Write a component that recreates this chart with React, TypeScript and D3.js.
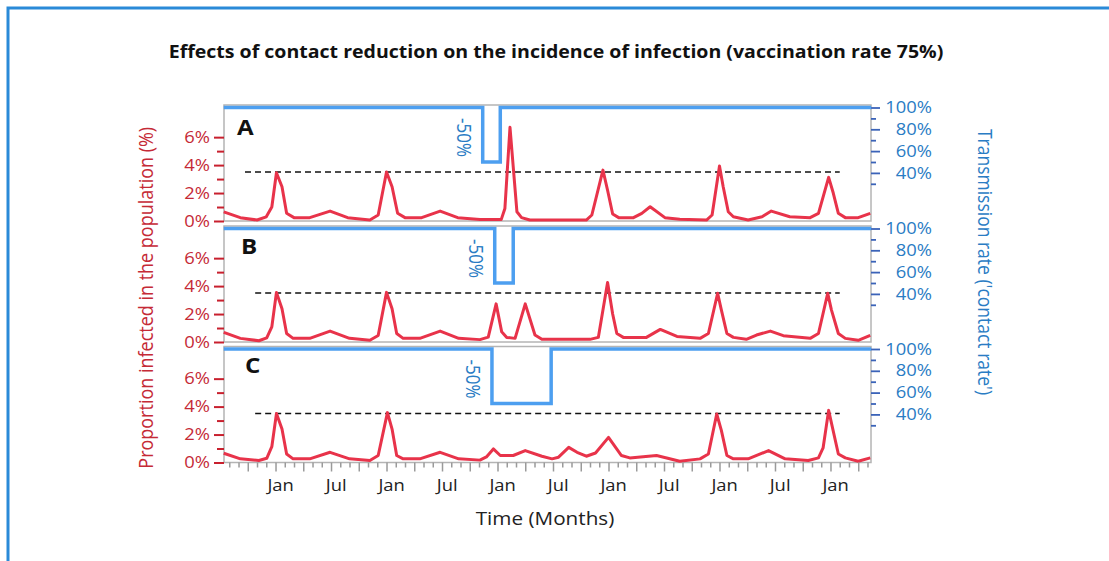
import React, { useEffect, useRef } from "react";
import * as d3 from "d3";

const TITLE = "Effects of contact reduction on the incidence of infection (vaccination rate 75%)";
const Y_TITLE = "Proportion infected in the population (%)";
const Y2_TITLE = "Transmission rate ('contact rate')";
const X_TITLE = "Time (Months)";

const panelNames = ["A", "B", "C"];

// time in months, 0 = January of the first labelled year; values in % infected
const incidenceA: [number, number][] = [
  [-5.6, 0.65], [-3.8, 0.24], [-2.0, 0.07], [-1.0, 0.3], [-0.4, 1.0], [0.1, 3.45], [0.7, 2.45],
  [1.2, 0.55], [2.0, 0.24], [3.7, 0.24], [5.9, 0.71], [7.8, 0.24], [10.2, 0.07], [11.1, 0.43],
  [12.0, 3.5], [12.6, 2.45], [13.2, 0.55], [14.0, 0.24], [15.8, 0.24], [17.8, 0.71], [19.7, 0.24],
  [22.1, 0.1], [24.4, 0.1], [24.8, 0.9], [25.35, 6.7], [26.1, 0.66], [26.6, 0.24], [27.5, 0.07],
  [33.6, 0.07], [34.2, 0.43], [35.4, 3.64], [35.9, 2.2], [36.45, 0.5], [37.1, 0.24], [38.7, 0.24],
  [39.6, 0.55], [40.5, 1.02], [42.1, 0.24], [43.7, 0.12], [46.6, 0.07], [47.2, 0.43], [48.0, 3.93],
  [48.4, 2.45], [48.95, 0.66], [49.5, 0.3], [51.1, 0.07], [52.6, 0.3], [53.6, 0.71], [55.6, 0.3],
  [57.8, 0.24], [58.7, 0.55], [59.8, 3.12], [60.3, 2.0], [60.85, 0.55], [61.6, 0.24], [63.0, 0.24],
  [64.3, 0.55],
];

const incidenceB: [number, number][] = [
  [-5.6, 0.69], [-3.8, 0.26], [-1.8, 0.09], [-0.95, 0.3], [-0.4, 1.08], [0.1, 3.55], [0.7, 2.38],
  [1.2, 0.61], [1.9, 0.26], [3.7, 0.26], [5.9, 0.78], [8.0, 0.26], [10.2, 0.12], [11.1, 0.47],
  [12.0, 3.55], [12.6, 2.38], [13.1, 0.61], [13.8, 0.26], [15.6, 0.26], [17.8, 0.78], [19.8, 0.26],
  [22.1, 0.17], [23.0, 0.35], [23.85, 2.73], [24.45, 0.73], [25.0, 0.33], [25.9, 0.26], [27.0, 2.73],
  [28.05, 0.5], [28.8, 0.19], [34.0, 0.19], [34.9, 0.33], [35.9, 4.26], [36.45, 2.0], [36.9, 0.61],
  [37.6, 0.33], [40.1, 0.33], [41.6, 0.9], [43.4, 0.4], [45.9, 0.26], [46.8, 0.61], [47.8, 3.49],
  [48.2, 2.3], [48.8, 0.61], [49.5, 0.33], [50.9, 0.19], [52.0, 0.5], [53.5, 0.78], [54.9, 0.45],
  [57.8, 0.26], [58.7, 0.61], [59.7, 3.49], [60.1, 2.3], [60.85, 0.61], [61.6, 0.26], [63.0, 0.12],
  [64.3, 0.47],
];

const incidenceC: [number, number][] = [
  [-5.6, 0.66], [-3.8, 0.26], [-1.8, 0.14], [-0.95, 0.3], [-0.4, 1.13], [0.1, 3.5], [0.7, 2.39],
  [1.2, 0.61], [1.9, 0.26], [3.7, 0.26], [5.9, 0.73], [8.0, 0.26], [10.2, 0.14], [11.1, 0.5],
  [12.1, 3.57], [12.6, 2.39], [13.1, 0.5], [13.8, 0.26], [15.6, 0.26], [17.8, 0.73], [19.8, 0.26],
  [22.1, 0.17], [22.8, 0.4], [23.55, 0.97], [24.3, 0.5], [25.7, 0.5], [27.0, 0.85], [28.8, 0.45],
  [29.9, 0.26], [30.6, 0.38], [31.7, 1.08], [32.6, 0.73], [33.6, 0.45], [34.6, 0.68], [36.0, 1.8],
  [37.4, 0.5], [38.3, 0.33], [41.2, 0.5], [43.7, 0.09], [45.9, 0.26], [46.8, 0.61], [47.7, 3.47],
  [48.2, 2.3], [48.8, 0.5], [49.5, 0.26], [51.1, 0.26], [53.3, 0.85], [55.1, 0.26], [57.6, 0.14],
  [58.7, 0.33], [59.2, 1.04], [59.8, 3.73], [60.85, 0.61], [61.6, 0.33], [63.0, 0.09], [64.3, 0.33],
];

// contact rate (% of normal) over time
const contactA: [number, number][] = [[-5.6, 100], [22.4, 100], [22.4, 50], [24.3, 50], [24.3, 100], [64.4, 100]];
const contactB: [number, number][] = [[-5.6, 100], [23.7, 100], [23.7, 50], [25.7, 50], [25.7, 100], [64.4, 100]];
const contactC: [number, number][] = [[-5.6, 100], [23.4, 100], [23.4, 50], [29.8, 50], [29.8, 100], [64.4, 100]];
const reductionLabel = "-50%";

const thresholdPct = 3.5;
const thresholdStart = [-3.3, -2.2, -2.2];
const thresholdEnd = 61.0;

const leftMajor = [0, 2, 4, 6];
const leftMinor = [1, 3, 5];
const rightMajor = [100, 80, 60, 40];
const rightMinor = [90, 70, 50, 30];
const monthLabels: Record<number, string> = { 0: "Jan", 6: "Jul" };

const incidence = [incidenceA, incidenceB, incidenceC];
const contact = [contactA, contactB, contactC];

const W = 1109;
const H = 561;
const FONT = "'Open Sans', 'Noto Sans', sans-serif";
const SX = 1.15; // horizontal text stretch seen in the picture
const RED = "#e8334a";
const RED_TXT = "#c52a36";
const BLUE = "#4d9ff0";
const BLUE_TXT = "#2a7cc4";

export default function App() {
  const ref = useRef<SVGSVGElement>(null);

  useEffect(() => {
    const svg = d3.select(ref.current);
    svg.selectAll("*").remove();

    const x0 = 224;
    const x1 = 871;
    const x = d3.scaleLinear().domain([-5.57, 64.38]).range([x0, x1]);
    const panelH = 116;
    const tops = [105, 226, 346.5];

    svg.append("rect").attr("x", 8).attr("y", 8).attr("width", W + 50).attr("height", H + 50)
      .attr("fill", "#fff").attr("stroke", "#2a8ad8").attr("stroke-width", 3);

    svg.append("text").attr("transform", `translate(556,58) scale(${SX},1)`).attr("text-anchor", "middle")
      .style("font-family", FONT).style("font-size", "17px").style("font-weight", "bold")
      .attr("fill", "#111").text(TITLE);

    tops.forEach((top, i) => {
      const bottom = top + panelH;
      const yL = d3.scaleLinear().domain([0, 8.3]).range([bottom, top]);
      const yR = d3.scaleLinear().domain([0, 100]).range([top + 111.5, top + 2.5]);
      const g = svg.append("g");

      g.append("rect").attr("x", x0).attr("y", top).attr("width", x1 - x0).attr("height", panelH)
        .attr("fill", "none").attr("stroke", "#b4b4b4").attr("stroke-width", 1.5);

      // left axis
      const la = g.append("g").attr("transform", `translate(${x0},0)`)
        .call(d3.axisLeft(yL).tickValues(leftMajor).tickSize(10).tickPadding(3).tickFormat((d) => `${d}%`));
      const lm = g.append("g").attr("transform", `translate(${x0},0)`)
        .call(d3.axisLeft(yL).tickValues(leftMinor).tickSize(7).tickFormat(() => ""));
      [la, lm].forEach((a) => {
        a.select(".domain").remove();
        a.selectAll("line").attr("stroke", "#c8202e").attr("stroke-width", 2);
      });
      la.selectAll("text").attr("x", -14 / SX).attr("transform", `scale(${SX},1)`).attr("fill", RED_TXT)
        .style("font-family", FONT).style("font-size", "16px");

      // right axis
      const ra = g.append("g").attr("transform", `translate(${x1},0)`)
        .call(d3.axisRight(yR).tickValues(rightMajor).tickSize(9).tickFormat((d) => `${d}%`));
      const rm = g.append("g").attr("transform", `translate(${x1},0)`)
        .call(d3.axisRight(yR).tickValues(rightMinor).tickSize(5).tickFormat(() => ""));
      [ra, rm].forEach((a) => {
        a.select(".domain").remove();
        a.selectAll("line").attr("stroke", "#3b63b8").attr("stroke-width", 1.8);
      });
      ra.selectAll("text").attr("x", 61 / SX).attr("transform", `scale(${SX},1)`).attr("text-anchor", "end")
        .attr("fill", BLUE_TXT).style("font-family", FONT).style("font-size", "16px");

      // contact rate
      const contactLine = d3.line<[number, number]>().x((d) => x(d[0])).y((d) => yR(d[1]));
      g.append("path").attr("d", contactLine(contact[i])).attr("fill", "none")
        .attr("stroke", BLUE).attr("stroke-width", 3.5);

      const dipStart = contact[i][1][0];
      g.append("text")
        .attr("transform", `translate(${x(dipStart) - 26},${top + 13}) rotate(90) scale(1,${SX})`)
        .attr("fill", BLUE_TXT).style("font-family", FONT).style("font-size", "17px")
        .text(reductionLabel);

      // threshold
      g.append("line").attr("x1", x(thresholdStart[i])).attr("x2", x(thresholdEnd))
        .attr("y1", yL(thresholdPct)).attr("y2", yL(thresholdPct))
        .attr("stroke", "#111").attr("stroke-width", 1.5).attr("stroke-dasharray", "6,4");

      // incidence
      const incLine = d3.line<[number, number]>().x((d) => x(d[0])).y((d) => yL(d[1]));
      g.append("path").attr("d", incLine(incidence[i])).attr("fill", "none")
        .attr("stroke", RED).attr("stroke-width", 3).attr("stroke-linejoin", "round");

      g.append("text")
        .attr("transform", `translate(${x0 + 13 + i * 4},${top + 30 - i * 2}) scale(${SX},1)`)
        .style("font-family", FONT).style("font-size", "21px").style("font-weight", "bold")
        .attr("fill", "#111").text(panelNames[i]);
    });

    // time axis
    const axisY = tops[2] + panelH;
    const months = d3.range(-5, 65);
    const major = months.filter((m) => m % 3 === 0);
    const minor = months.filter((m) => m % 3 !== 0);
    const labelled = months.filter((m) => ((m % 12) + 12) % 12 in monthLabels);
    const tick = (vals: number[], size: number) => {
      const a = svg.append("g").attr("transform", `translate(0,${axisY})`)
        .call(d3.axisBottom(x).tickValues(vals).tickSize(size).tickFormat(() => ""));
      a.select(".domain").remove();
      a.selectAll("line").attr("stroke", "#9a9a9a").attr("stroke-width", 1.5);
    };
    tick(minor, 5);
    tick(major, 9);
    const lab = svg.append("g").attr("transform", `translate(0,${axisY})`)
      .call(d3.axisBottom(x).tickValues(labelled.map((m) => m + 0.5)).tickSize(0)
        .tickFormat((d) => monthLabels[((Math.round(+d - 0.5) % 12) + 12) % 12]));
    lab.select(".domain").remove();
    lab.selectAll("text").attr("y", 29).attr("dy", 0).attr("transform", `scale(${SX},1)`).attr("fill", "#222")
      .style("font-family", FONT).style("font-size", "16px");

    svg.append("text").attr("transform", `translate(545,525) scale(${SX},1)`).attr("text-anchor", "middle")
      .style("font-family", FONT).style("font-size", "18px").attr("fill", "#222").text(X_TITLE);

    svg.append("text").attr("transform", `translate(153,${(tops[0] + axisY) / 2 + 14}) rotate(-90) scale(1,${SX})`)
      .attr("text-anchor", "middle").style("font-family", FONT).style("font-size", "18px")
      .attr("fill", RED_TXT).text(Y_TITLE);

    svg.append("text").attr("transform", `translate(978,262) rotate(90) scale(1,${SX})`)
      .attr("text-anchor", "middle").style("font-family", FONT).style("font-size", "17.5px")
      .attr("fill", BLUE_TXT).text(Y2_TITLE);
  }, []);

  return (
    <svg ref={ref} width={W} height={H}
      style={{ position: "absolute", left: 0, top: 0, background: "#fff" }} />
  );
}
